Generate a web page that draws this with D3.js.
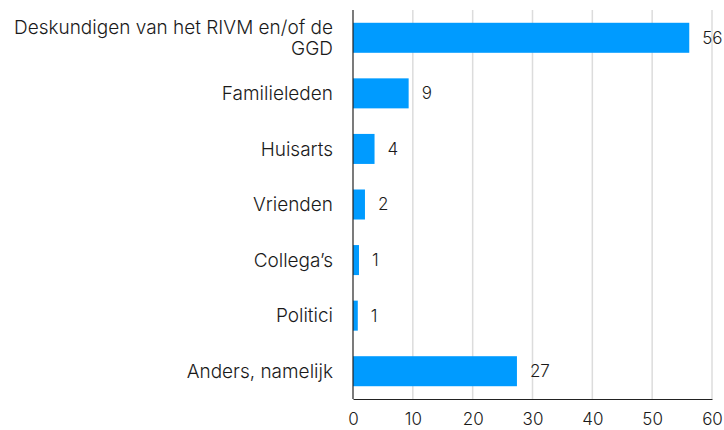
<!DOCTYPE html>
<html>
<head>
<meta charset="utf-8">
<script src="https://cdn.jsdelivr.net/npm/d3@7"></script>
<style>
  body { margin: 0; background: #fff; }
  text { font-family: Inter, "Noto Sans", sans-serif; fill: #1a1a1a; font-weight: 300; }
</style>
</head>
<body>
<div id="chart"></div>
<script>
// categories and values
let categories = [
  ['Deskundigen van het RIVM en/of de', 'GGD'],
  ['Familieleden'],
  ['Huisarts'],
  ['Vrienden'],
  ['Collega\u2019s'],
  ['Politici'],
  ['Anders, namelijk']
]
let values = [56.2, 9.3, 3.6, 2.0, 1.0, 0.8, 27.4]
let xTicks = [0, 10, 20, 30, 40, 50, 60]

let margin = { top: 10, left: 353, right: 12, bottom: 31 }
let width = 724 - margin.left - margin.right
let height = 430 - margin.top - margin.bottom

let svg = d3
  .select('#chart')
  .append('svg')
  .attr('width', 724)
  .attr('height', 430)
  .append('g')
  .attr('transform', `translate(${margin.left}, ${margin.top})`)

let xPositionScale = d3.scaleLinear().domain([0, 60]).range([0, width])
let yPositionScale = d3
  .scaleBand()
  .domain(d3.range(categories.length))
  .range([0, height])
  .paddingInner(0.46)
  .paddingOuter(0.23)

// gridlines
svg
  .selectAll('.grid')
  .data(xTicks.slice(1))
  .enter()
  .append('line')
  .attr('class', 'grid')
  .attr('x1', d => xPositionScale(d))
  .attr('x2', d => xPositionScale(d))
  .attr('y1', 0)
  .attr('y2', height)
  .attr('stroke', '#dcdcdc')
  .attr('stroke-width', 1.5)

// bars
svg
  .selectAll('.bar')
  .data(values)
  .enter()
  .append('rect')
  .attr('class', 'bar')
  .attr('x', 0)
  .attr('y', (d, i) => yPositionScale(i))
  .attr('width', d => xPositionScale(d))
  .attr('height', yPositionScale.bandwidth())
  .attr('fill', '#009bff')

// value labels
svg
  .selectAll('.value')
  .data(values)
  .enter()
  .append('text')
  .attr('class', 'value')
  .attr('x', d => xPositionScale(d) + 13)
  .attr('y', (d, i) => yPositionScale(i) + yPositionScale.bandwidth() / 2)
  .attr('dy', '0.35em')
  .attr('font-size', 17)
  .text(d => d3.format('.0f')(d))

// category labels
let labels = svg
  .selectAll('.cat')
  .data(categories)
  .enter()
  .append('text')
  .attr('class', 'cat')
  .attr('text-anchor', 'end')
  .attr('font-size', 19)
  .attr('y', (d, i) => yPositionScale(i) + yPositionScale.bandwidth() / 2)

labels
  .selectAll('tspan')
  .data(d => d)
  .enter()
  .append('tspan')
  .attr('x', -20)
  .attr('dy', (d, i, nodes) => {
    let n = nodes.length
    return i === 0 ? `${0.35 - (n - 1) * 0.55}em` : '1.1em'
  })
  .text(d => d)

// axes
let xAxis = d3.axisBottom(xPositionScale).tickValues(xTicks).tickSize(0).tickPadding(14)
svg
  .append('g')
  .attr('transform', `translate(0, ${height})`)
  .call(xAxis)
  .call(g => g.select('.domain').attr('stroke', '#222').attr('stroke-width', 1.2))
  .selectAll('text')
  .attr('font-size', 17)
  .style('font-family', 'Inter, "Noto Sans", sans-serif')
  .attr('fill', '#1a1a1a')

svg
  .append('line')
  .attr('x1', 0)
  .attr('x2', 0)
  .attr('y1', 0)
  .attr('y2', height)
  .attr('stroke', '#222')
  .attr('stroke-width', 1.2)
</script>
</body>
</html>
